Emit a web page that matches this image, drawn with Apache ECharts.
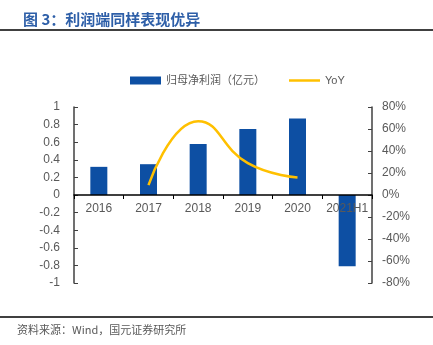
<!DOCTYPE html>
<html><head><meta charset="utf-8">
<script src="https://cdn.jsdelivr.net/npm/echarts@6/dist/echarts.min.js"></script>
<style>html,body{margin:0;padding:0;background:#fff}#c{width:433px;height:345px}</style>
</head><body><div id="c"></div>
<script>
const categories = ['2016','2017','2018','2019','2020','2021H1'];
const profit = [0.32, 0.35, 0.58, 0.75, 0.87, -0.81];
const yoy = [null, 9, 67, 29, 16, null];
const leftTicks = {min:-1, max:1, interval:0.2};
const rightTicks = {min:-80, max:80, interval:20};

const chart = echarts.init(document.getElementById('c'));
chart.setOption({
  animation:false,
  backgroundColor:'#fff',
  textStyle:{fontFamily:'"Liberation Sans", Arial, "Noto Sans CJK SC", sans-serif'},
  title:{text:'图 3：利润端同样表现优异', left:18, top:7,
    textStyle:{color:'#2E5FA8', fontSize:15, fontWeight:'bold', fontFamily:'"Noto Sans CJK SC", sans-serif'}},
  graphic:[
    {type:'line', shape:{x1:0,y1:30,x2:433,y2:30}, style:{stroke:'#000', lineWidth:1.5}},
    {type:'line', shape:{x1:0,y1:317,x2:433,y2:317}, style:{stroke:'#000', lineWidth:1.5}},
    {type:'text', left:17, top:324, style:{text:'资料来源：Wind，国元证券研究所', fill:'#595959', font:'11px "Noto Sans CJK SC", sans-serif'}}
  ],
  legend:{top:70, left:125, itemGap:24, itemWidth:31, itemHeight:8,
    textStyle:{color:'#595959', fontSize:11},
    data:[{name:'归母净利润（亿元）', icon:'rect'},
          {name:'YoY', icon:'path://M0,0L31,0L31,2.5L0,2.5Z', itemStyle:{color:'#FFC000'}}]},
  grid:{left:74, right:61, top:107, bottom:62},
  xAxis:{type:'category', data:categories, offset:-88, zlevel:1, z:10,
    axisLine:{onZero:false, lineStyle:{color:'#000', width:1.5}},
    axisTick:{show:true, inside:false, length:4, lineStyle:{color:'#000'}},
    axisLabel:{color:'#595959', fontSize:12, margin:8, interval:0}},
  yAxis:[
    {type:'value', min:leftTicks.min, max:leftTicks.max, interval:leftTicks.interval,
     axisLine:{show:true, lineStyle:{color:'#404040', width:1.5}},
     axisTick:{show:true, inside:true, length:4, lineStyle:{color:'#404040'}},
     axisLabel:{color:'#595959', fontSize:12, margin:14},
     splitLine:{show:false}},
    {type:'value', min:rightTicks.min, max:rightTicks.max, interval:rightTicks.interval,
     axisLine:{show:true, lineStyle:{color:'#404040', width:1.5}},
     axisTick:{show:true, inside:true, length:4, lineStyle:{color:'#404040'}},
     axisLabel:{color:'#595959', fontSize:12, margin:10, formatter:'{value}%'},
     splitLine:{show:false}}
  ],
  series:[
    {name:'归母净利润（亿元）', type:'bar', data:profit, barWidth:17, z:1,
     itemStyle:{color:'#0D4FA3'}},
    {name:'YoY', type:'line', yAxisIndex:1, data:yoy, smooth:0.5, showSymbol:false, z:3,
     lineStyle:{color:'#FFC000', width:2.5}, itemStyle:{color:'#FFC000'}}
  ]
});
</script></body></html>
